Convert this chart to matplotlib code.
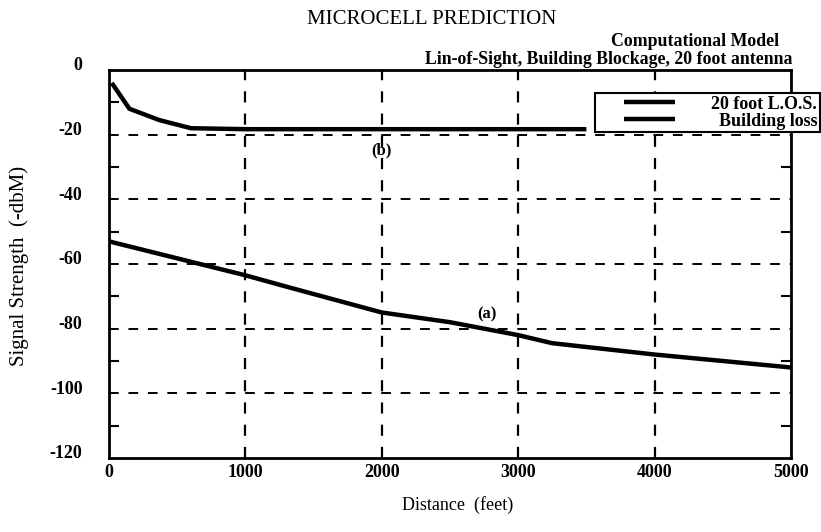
import matplotlib
matplotlib.use("Agg")
import matplotlib.pyplot as plt
import matplotlib.transforms as mtransforms
from matplotlib.ticker import MultipleLocator
from matplotlib.legend_handler import HandlerLine2D

plt.rcParams['font.family'] = ['Liberation Serif', 'DejaVu Serif']
plt.rcParams['axes.unicode_minus'] = False

# Data
los_x = [20, 150, 370, 600, 1000, 2000, 3000, 3500]
los_y = [-4, -12, -15.5, -18, -18.3, -18.3, -18.3, -18.3]

bld_x = [0, 1000, 1300, 2000, 2500, 2750, 3000, 3250, 4000, 5000]
bld_y = [-53, -63.5, -67, -75, -78, -80, -82, -84.5, -88, -92]

x_ticks = [0, 1000, 2000, 3000, 4000, 5000]
y_ticks = [0, -20, -40, -60, -80, -100, -120]
series_labels = ["20 foot L.O.S.", "Building loss"]

fig = plt.figure(figsize=(8.21, 5.32), dpi=100)
ax = fig.add_axes([109/821, 1-458/532, (791-109)/821, (458-70)/532])

l1, = ax.plot(los_x, los_y, color='black', lw=3.2, solid_capstyle='butt', zorder=3)
l2, = ax.plot(bld_x, bld_y, color='black', lw=3.2, solid_capstyle='butt', zorder=3)

ax.set_xlim(0, 5000)
ax.set_ylim(-120, 0)
ax.set_xticks(x_ticks)
ax.set_yticks(y_ticks)
ax.yaxis.set_minor_locator(MultipleLocator(10))
ax.tick_params(axis='both', which='both', direction='in', top=True, right=True,
               labelsize=13, width=1.5)
ax.tick_params(which='major', length=0)
ax.tick_params(which='minor', length=7)
ax.tick_params(axis='x', pad=4)
ax.tick_params(axis='y', pad=19)

offset = mtransforms.ScaledTranslation(0, 6/100, fig.dpi_scale_trans)
for lab in ax.get_yticklabels():
    lab.set_fontweight('bold')
    lab.set_transform(lab.get_transform() + offset)
for lab in ax.get_xticklabels():
    lab.set_fontweight('bold')

for s in ax.spines.values():
    s.set_linewidth(2)

for xv in [1000, 2000, 3000, 4000]:
    ax.axvline(xv, color='black', lw=1.6, ls=(0, (5, 5)), zorder=1)
for yv in [-20, -40, -60, -80, -100]:
    ax.axhline(yv, color='black', lw=1.4, ls=(0, (5, 5)), zorder=1)

ax.text(2000, -25, "(b)", fontsize=12, fontweight='bold', ha='center', va='center')
ax.text(2770, -75.5, "(a)", fontsize=12, fontweight='bold', ha='center', va='center')

fig.text(432/821, 1-20/532, "MICROCELL PREDICTION", fontsize=15, ha='center', va='center')
fig.text(695/821, 1-41/532, "Computational Model", fontsize=12.8, fontweight='bold',
         ha='center', va='center')
fig.text(792/821, 1-59/532, "Lin-of-Sight, Building Blockage, 20 foot antenna",
         fontsize=12.8, fontweight='bold', ha='right', va='center')

fig.text(19/821, 1-266/532, "Signal Strength  (-dbM)", fontsize=15,
         rotation=90, ha='center', va='center')
fig.text(458/821, 1-505/532, "Distance  (feet)", fontsize=13,
         ha='center', va='center')

leg_fs = 13
hm = {l1: HandlerLine2D(xpad=1.45), l2: HandlerLine2D(xpad=1.45)}
leg = fig.legend([l1, l2], series_labels, loc='upper left',
                 bbox_to_anchor=(595/821, 1-93/532), frameon=True, fancybox=False,
                 edgecolor='black', framealpha=1, handlelength=4.3,
                 borderpad=0.15, borderaxespad=0, labelspacing=0.0, handletextpad=2.0,
                 handler_map=hm,
                 prop={'family': 'Liberation Serif', 'weight': 'bold', 'size': leg_fs})
leg.get_frame().set_linewidth(1.5)
leg.set_zorder(5)

# right-align legend texts
fig.canvas.draw()
r = fig.canvas.get_renderer()
widths = [t.get_window_extent(r).width for t in leg.get_texts()]
mw = max(widths)
for t, w in zip(leg.get_texts(), widths):
    t.set_position((mw - w, 0))

fig.savefig("out.png", dpi=100)
